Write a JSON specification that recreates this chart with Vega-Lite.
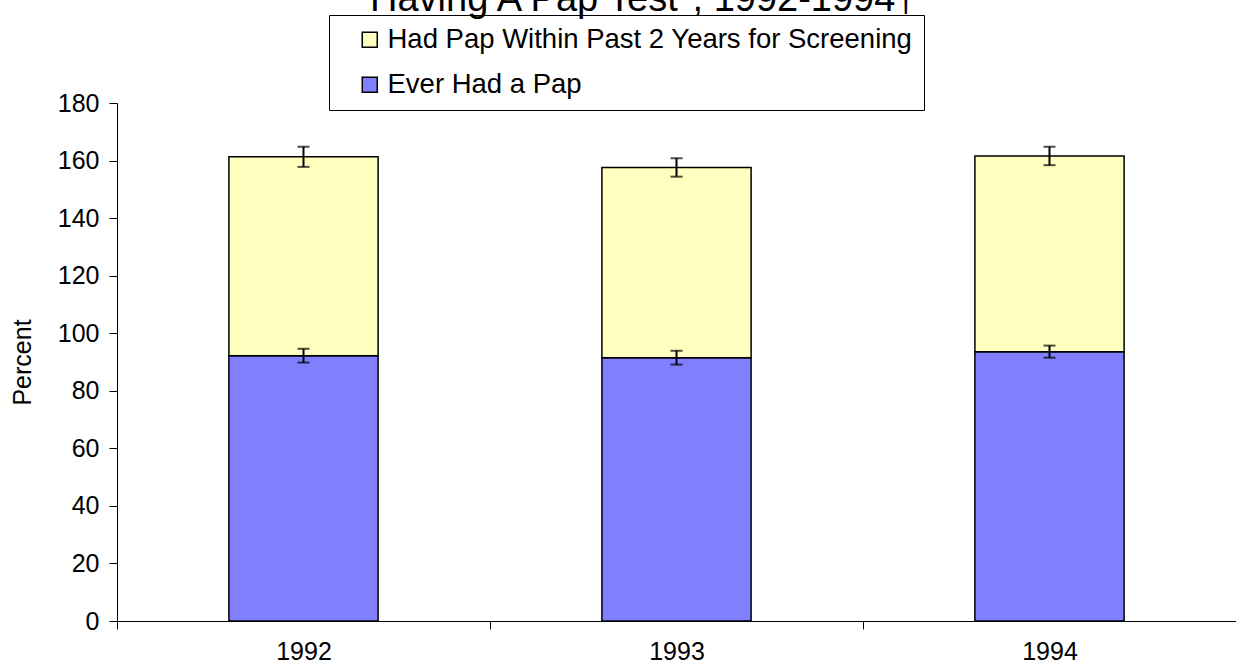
{
  "$schema": "https://vega.github.io/schema/vega-lite/v6.json",
  "autosize": "none",
  "width": 1119,
  "height": 518,
  "padding": {"left": 117, "top": 103, "right": 0, "bottom": 50},
  "background": "white",
  "config": {
    "font": "Liberation Sans",
    "view": {"stroke": null},
    "axis": {"grid": false, "domainColor": "#000000", "tickColor": "#000000", "labelColor": "#000000", "titleColor": "#000000", "labelFont": "Liberation Sans", "titleFont": "Liberation Sans"}
  },
  "title": {
    "text": "Having A Pap Test*, 1992-1994†",
    "anchor": "start",
    "frame": "group",
    "dx": 253,
    "dy": 34,
    "baseline": "alphabetic",
    "offset": 0,
    "fontSize": 38,
    "fontWeight": "normal",
    "font": "Liberation Sans",
    "color": "#000000"
  },
  "data": {
    "values": [
      {"year": "1992", "series": "Ever Had a Pap", "value": 92.2, "err": 2.4},
      {"year": "1992", "series": "Had Pap Within Past 2 Years for Screening", "value": 69.1, "err": 3.5},
      {"year": "1993", "series": "Ever Had a Pap", "value": 91.5, "err": 2.4},
      {"year": "1993", "series": "Had Pap Within Past 2 Years for Screening", "value": 66.1, "err": 3.2},
      {"year": "1994", "series": "Ever Had a Pap", "value": 93.6, "err": 2.1},
      {"year": "1994", "series": "Had Pap Within Past 2 Years for Screening", "value": 68.0, "err": 3.2}
    ]
  },
  "encoding": {
    "x": {
      "field": "year",
      "type": "nominal",
      "scale": {"paddingInner": 0, "paddingOuter": 0},
      "axis": {"title": null, "labelAngle": 0, "labelFontSize": 25, "tickBand": "extent", "tickSize": 8, "labelPadding": 10, "domainWidth": 1, "tickWidth": 1}
    }
  },
  "layer": [
    {
      "mark": {"type": "bar", "stroke": "#000000", "strokeWidth": 1.5, "width": {"band": 0.4}},
      "encoding": {
        "y": {
          "field": "value",
          "type": "quantitative",
          "stack": "zero",
          "title": "Percent",
          "scale": {"domain": [0, 180], "nice": false},
          "axis": {"title": "Percent", "titleFontSize": 25, "titleFontWeight": "normal", "titlePadding": 22, "labelFontSize": 25, "values": [0, 20, 40, 60, 80, 100, 120, 140, 160, 180], "labelOverlap": false, "tickSize": 8, "labelPadding": 10, "domainWidth": 1, "tickWidth": 1}
        },
        "color": {
          "field": "series",
          "type": "nominal",
          "scale": {"domain": ["Had Pap Within Past 2 Years for Screening", "Ever Had a Pap"], "range": ["#FFFFC0", "#8080FF"]},
          "legend": {
            "title": null,
            "orient": "none",
            "legendX": 212,
            "legendY": -88,
            "direction": "vertical",
            "strokeColor": "#000000",
            "fillColor": "#FFFFFF",
            "padding": 11,
            "symbolOffset": 16,
            "symbolType": "square",
            "symbolSize": 225,
            "symbolStrokeColor": "#000000",
            "symbolStrokeWidth": 1.5,
            "labelFontSize": 27.5,
            "labelFont": "Liberation Sans",
            "labelColor": "#000000",
            "labelOffset": 4,
            "rowPadding": 16,
            "labelLimit": 1000
          }
        },
        "order": {"field": "series", "sort": "ascending"}
      }
    },
    {
      "transform": [
        {"stack": "value", "groupby": ["year"], "as": ["y0", "y1"], "sort": [{"field": "series", "order": "ascending"}]}
      ],
      "mark": {"type": "errorbar", "ticks": true, "size": 12, "thickness": 2, "color": "#000000"},
      "encoding": {
        "y": {
          "field": "y1",
          "type": "quantitative",
          "title": "Percent",
          "axis": {"title": "Percent", "titleFontSize": 25, "titleFontWeight": "normal", "titlePadding": 22, "labelFontSize": 25, "values": [0, 20, 40, 60, 80, 100, 120, 140, 160, 180], "labelOverlap": false, "tickSize": 8, "labelPadding": 10, "domainWidth": 1, "tickWidth": 1}
        },
        "yError": {"field": "err"}
      }
    }
  ]
}
